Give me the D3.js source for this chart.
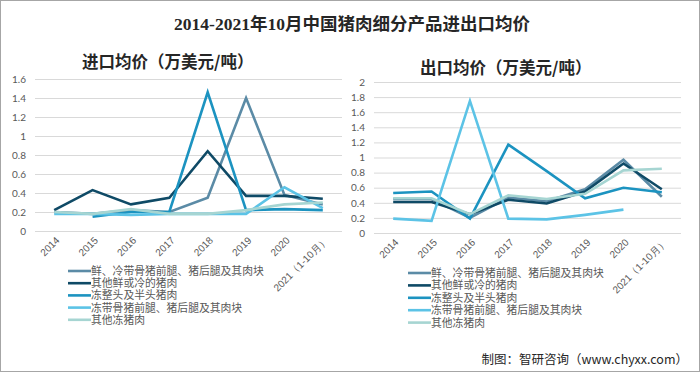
<!DOCTYPE html>
<html><head><meta charset="utf-8">
<script src="https://cdn.jsdelivr.net/npm/d3@7"></script>
<style>
body{margin:0;background:#fff;}
svg{display:block;font-family:"Noto Sans CJK SC","Noto Sans",sans-serif;}
</style></head>
<body><svg id="c" width="700" height="372"></svg>
<script>
const categories = ["2014","2015","2016","2017","2018","2019","2020","2021（1-10月）"];
const seriesNames = ["鲜、冷带骨猪前腿、猪后腿及其肉块","其他鲜或冷的猪肉","冻整头及半头猪肉","冻带骨猪前腿、猪后腿及其肉块","其他冻猪肉"];
const colors = ["#5b8ba6","#0f4a66","#1c93c0","#5cc3e6","#a6d5d2"];
// import prices
const imp1 = [0.20,0.18,0.22,0.20,0.35,1.40,0.38,0.28];
const imp2 = [0.22,0.43,0.28,0.35,0.84,0.37,0.37,0.34];
const imp3 = [null,0.15,0.20,0.20,1.46,0.22,0.23,0.22];
const imp4 = [0.18,0.18,0.17,0.18,0.18,0.18,0.46,0.24];
const imp5 = [0.20,0.18,0.23,0.18,0.18,0.22,0.28,0.30];
// export prices
const exp1 = [0.45,0.45,0.20,0.47,0.42,0.58,0.97,0.48];
const exp2 = [0.41,0.41,0.25,0.44,0.39,0.55,0.92,0.58];
const exp3 = [0.53,0.55,0.19,1.17,0.82,0.46,0.60,0.54];
const exp4 = [0.19,0.16,1.75,0.19,0.18,0.24,0.31,null];
const exp5 = [0.46,0.46,0.25,0.50,0.45,0.52,0.83,0.85];
const impTicks = [0,0.2,0.4,0.6,0.8,1,1.2,1.4,1.6];
const expTicks = [0,0.2,0.4,0.6,0.8,1,1.2,1.4,1.6,1.8,2];

const svg = d3.select("#c");
svg.append("rect").attr("x",0.5).attr("y",0.5).attr("width",699).attr("height",371)
  .attr("fill","#fff").attr("stroke","#a6a6a6");

svg.append("text").attr("x",352).attr("y",30).attr("text-anchor","middle")
  .attr("font-family","'Liberation Serif','Noto Sans CJK SC',serif").attr("font-weight","bold")
  .attr("font-size",17.5).attr("fill","#262626").text("2014-2021年10月中国猪肉细分产品进出口均价");

function panel(o){
  const g = svg.append("g");
  const x = d3.scaleBand().domain(categories).range([o.x0,o.x1]);
  const y = d3.scaleLinear().domain([0,o.max]).range([o.y0,o.y1]);
  g.append("text").attr("x",o.tx).attr("y",o.ty).attr("font-weight","bold").attr("font-size",16.5)
    .attr("fill","#262626").text(o.title);
  const ya = g.append("g").attr("transform",`translate(${o.x0},0)`)
    .call(d3.axisLeft(y).tickValues(o.ticks).tickSize(-(o.x1-o.x0)).tickPadding(9).tickFormat(d3.format("")));
  ya.select(".domain").remove();
  ya.selectAll("line").attr("stroke","#d9d9d9");
  ya.selectAll("text").attr("fill","#595959").attr("font-size",10).attr("font-family","Lato,'Noto Sans',sans-serif");
  const xa = g.append("g").attr("transform",`translate(0,${o.y0})`)
    .call(d3.axisBottom(x).tickSize(0).tickPadding(0));
  xa.select(".domain").remove();
  xa.selectAll("text").attr("fill","#595959").attr("font-size",10)
    .attr("text-anchor","end").attr("dy",0)
    .attr("transform","translate(6,10) rotate(-45)");
  const line = d3.line().defined(d=>d!=null)
    .x((d,i)=>x(categories[i])+x.bandwidth()/2).y(d=>y(d));
  o.data.forEach((s,k)=>{
    g.append("path").datum(s).attr("d",line).attr("fill","none")
      .attr("stroke",colors[k]).attr("stroke-width",2.6).attr("stroke-linejoin","miter");
  });
  const lg = g.append("g");
  seriesNames.forEach((n,k)=>{
    const yy = o.ly + k*o.ls;
    lg.append("line").attr("x1",o.lx).attr("x2",o.lx+23).attr("y1",yy).attr("y2",yy)
      .attr("stroke",colors[k]).attr("stroke-width",2.6);
    lg.append("text").attr("x",o.lx+23).attr("y",yy+4).attr("font-size",10.8)
      .attr("fill","#595959").text(n);
  });
}

panel({x0:35,x1:342,y0:231,y1:79,max:1.6,ticks:impTicks,
  title:"进口均价（万美元/吨）",tx:82,ty:68,
  data:[imp1,imp2,imp3,imp4,imp5],lx:68,ly:271,ls:12.2});
panel({x0:374,x1:681,y0:233,y1:82,max:2,ticks:expTicks,
  title:"出口均价（万美元/吨）",tx:420,ty:74,
  data:[exp1,exp2,exp3,exp4,exp5],lx:408,ly:273,ls:12.4});

svg.append("text").attr("x",688).attr("y",364).attr("text-anchor","end").attr("font-size",12.5)
  .attr("fill","#262626").text("制图：智研咨询（www.chyxx.com）");
</script></body></html>
